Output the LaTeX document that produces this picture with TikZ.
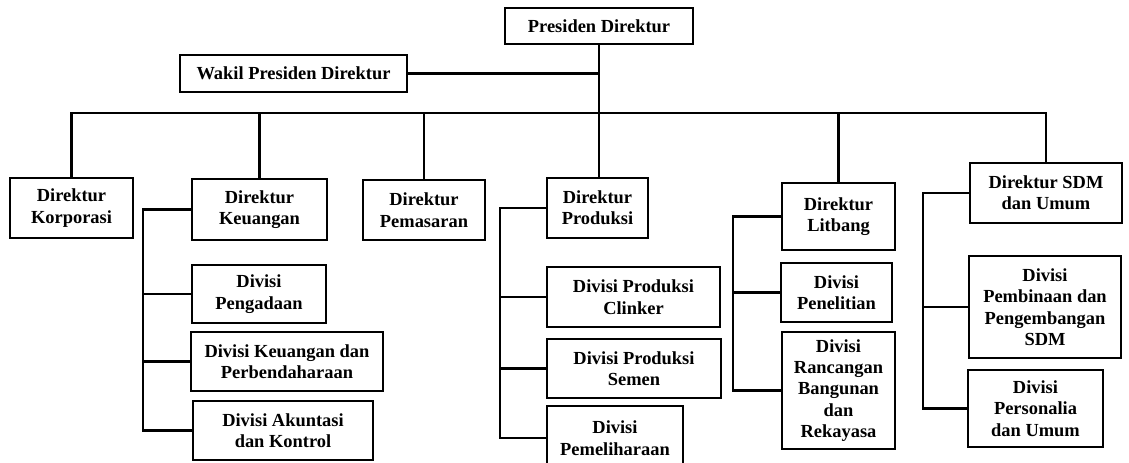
\documentclass[tikz,border=0pt]{standalone}
\usepackage{fontspec}
\setmainfont{Liberation Serif}
\begin{document}
\begin{tikzpicture}[x=1bp,y=-1bp,
  box/.style={draw, line width=2.4bp, inner sep=0pt, align=center,
    font=\bfseries\fontsize{18.5}{21.5}\selectfont},
  conn/.style={line width=2.4bp}]
\useasboundingbox (0,0) rectangle (1129,463);
% top level
\node[box, minimum width=188bp, minimum height=36bp] (pd) at (599,26) {Presiden Direktur};
\node[box, minimum width=227bp, minimum height=37bp] (wpd) at (293.5,73.5) {Wakil Presiden Direktur};
% directors
\node[box, minimum width=123bp, minimum height=60bp] (kor) at (71.5,208) {Direktur\\Korporasi};
\node[box, minimum width=135bp, minimum height=61bp] (keu) at (259.5,209.5) {Direktur\\Keuangan};
\node[box, minimum width=122bp, minimum height=60bp] (pem) at (424,210) {Direktur\\Pemasaran};
\node[box, minimum width=101bp, minimum height=60bp] (pro) at (597.5,208) {Direktur\\Produksi};
\node[box, minimum width=113bp, minimum height=67bp] (lit) at (838.5,216.5) {Direktur\\Litbang};
\node[box, minimum width=152bp, minimum height=60bp] (sdm) at (1046,193) {Direktur SDM\\dan Umum};
% divisions
\node[box, minimum width=134bp, minimum height=58bp] (peng) at (259,294) {Divisi\\Pengadaan};
\node[box, minimum width=192bp, minimum height=59bp] (kp) at (287,361.5) {Divisi Keuangan dan\\Perbendaharaan};
\node[box, minimum width=180bp, minimum height=59bp] (ak) at (283,430.5) {Divisi Akuntasi\\dan Kontrol};
\node[box, minimum width=173bp, minimum height=60bp] (clink) at (633.5,297) {Divisi Produksi\\Clinker};
\node[box, minimum width=174bp, minimum height=59bp] (semen) at (634,368.5) {Divisi Produksi\\Semen};
\node[box, minimum width=136bp, minimum height=64bp] (pemel) at (615,438) {Divisi\\Pemeliharaan};
\node[box, minimum width=111bp, minimum height=59bp] (pen) at (836.5,292.5) {Divisi\\Penelitian};
\node[box, minimum width=113bp, minimum height=117bp] (ranc) at (838.5,390.5) {Divisi\\Rancangan\\Bangunan\\dan\\Rekayasa};
\node[box, minimum width=152bp, minimum height=102bp] (pemb) at (1045,307) {Divisi\\Pembinaan dan\\Pengembangan\\SDM};
\node[box, minimum width=135bp, minimum height=77bp] (pers) at (1035.5,408.5) {Divisi\\Personalia\\dan Umum};
% top connectors
\coordinate (bus) at (0,113);
\draw[conn] (pd.south) -- (pd.south |- pro.north);
\draw[conn] (wpd.east) -- (wpd.east -| pd.south);
\draw[conn] (kor.north) -- (kor.north |- bus) -- (sdm.north |- bus) -- (sdm.north);
\foreach \n in {keu,pem,lit} {\draw[conn] (\n.north |- bus) -- (\n.north);}
% Keuangan spine
\coordinate (sk) at (143,0);
\draw[conn] (keu.west) -- (keu.west -| sk) |- (ak.west);
\foreach \n in {peng,kp} {\draw[conn] (\n.west -| sk) -- (\n.west);}
% Produksi spine
\coordinate (sp) at (500,0);
\draw[conn] (pro.west) -- (pro.west -| sp) |- (pemel.west);
\foreach \n in {clink,semen} {\draw[conn] (\n.west -| sp) -- (\n.west);}
% Litbang spine
\coordinate (sl) at (733,0);
\draw[conn] (lit.west) -- (lit.west -| sl) |- (ranc.west);
\draw[conn] (pen.west -| sl) -- (pen.west);
% SDM spine
\coordinate (ss) at (923,0);
\draw[conn] (sdm.west) -- (sdm.west -| ss) |- (pers.west);
\draw[conn] (pemb.west -| ss) -- (pemb.west);
\end{tikzpicture}
\end{document}
